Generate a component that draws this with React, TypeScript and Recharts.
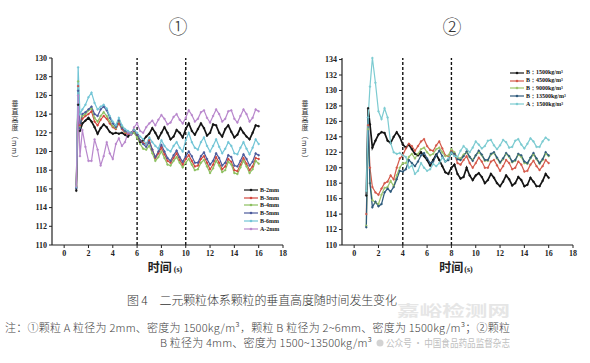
import { LineChart, Line, XAxis, YAxis, ReferenceLine, Legend } from 'recharts';

const times = [1, 1.15, 1.3, 1.5, 1.75, 2, 2.25, 2.5, 2.75, 3, 3.25, 3.5, 3.75, 4, 4.25, 4.5, 4.75, 5, 5.25, 5.5, 5.75, 6, 6.25, 6.5, 6.75, 7, 7.25, 7.5, 7.75, 8, 8.25, 8.5, 8.75, 9, 9.25, 9.5, 9.75, 10, 10.25, 10.5, 10.75, 11, 11.25, 11.5, 11.75, 12, 12.25, 12.5, 12.75, 13, 13.25, 13.5, 13.75, 14, 14.25, 14.5, 14.75, 15, 15.25, 15.5, 15.75, 16];

const xTicks = [0, 2, 4, 6, 8, 10, 12, 14, 16, 18];
const leftYTicks = [110, 112, 114, 116, 118, 120, 122, 124, 126, 128, 130];
const rightYTicks = [110, 112, 114, 116, 118, 120, 122, 124, 126, 128, 130, 132, 134];

// ① particle size series
const leftB2 = [115.8, 125, 122.2, 123, 123.3,
  123.6, 123.2, 122.6, 121.9, 122.5, 122.9, 122.6, 122.1, 121.9, 122, 121.9, 122, 121.8, 121.6, 122, 122.3,
  121.8, 121, 121.2, 121.6, 121.9, 122.5, 122, 121.4, 122, 122.6, 122, 121.3, 121.6, 122.3, 122, 121.5,
  122.4, 123, 122.2, 121.8, 122.4, 123, 122.5, 121.7, 122, 122.9, 122.8, 122, 121.6, 122.4, 122.8, 122.1,
  121.5, 121.8, 122.5, 122, 121.6, 121.3, 122, 122.8, 122.7];
const leftB3 = [116.2, 127, 122.8, 123.5, 123.8,
  124, 124.3, 123.2, 122.8, 123.4, 123.8, 123.5, 123, 122.6, 122.4, 123, 122.4, 122, 121.9, 121.8, 122.1,
  121.8, 121.2, 120.9, 120.8, 121.2, 120.2, 119.3, 119.8, 120.4, 119.7, 119, 118.8, 119.3, 119.8, 119.1, 118.6,
  119.2, 119.6, 119, 118.4, 118.5, 119.2, 119.5, 118.8, 118.1, 118.6, 119.4, 118.8, 118.1, 118.4, 119.2, 118.9,
  118, 117.9, 118.6, 119.3, 118.7, 118, 118.4, 119.3, 119.2];
const leftB4 = [116.3, 127.5, 122.6, 123.8, 124,
  124.4, 124.6, 123.6, 123.2, 123.8, 124.2, 123.8, 123.2, 122.7, 122.5, 123.2, 122.6, 122.1, 122, 121.8, 122,
  121.5, 120.8, 120.3, 120.2, 120.6, 119.8, 119, 119.4, 120, 119.3, 118.6, 118.5, 119, 119.4, 118.8, 118.3,
  118.8, 119.2, 118.6, 118, 118.1, 118.8, 119.1, 118.4, 117.7, 118.2, 119, 118.5, 117.8, 118, 118.9, 118.6,
  117.7, 117.6, 118.3, 119, 118.4, 117.7, 118.1, 119, 118.7];
const leftB5 = [116.1, 126.5, 122.5, 124, 124.2,
  124.5, 124.8, 124, 123.8, 124.5, 124.8, 124.4, 123.6, 123, 122.6, 123.3, 122.5, 122.2, 122, 121.8, 122.2,
  121.8, 121.2, 120.8, 120.5, 121, 120.2, 119.4, 120, 120.7, 120, 119.3, 119, 119.6, 120.1, 119.4, 118.9,
  119.5, 120, 119.5, 118.8, 118.8, 119.5, 119.9, 119.2, 118.6, 119, 119.8, 119.3, 118.5, 118.8, 119.6, 119.4,
  118.5, 118.4, 119, 119.7, 119.2, 118.5, 118.9, 119.8, 119.6];
const leftB6 = [116.2, 129, 124, 124.5, 125,
  125.8, 126.3, 125.2, 124.5, 124.8, 125, 124.6, 123.8, 123.2, 122.8, 123.6, 122.8, 122.4, 122.2, 122, 122.3,
  122, 121.6, 121.3, 120.8, 121.5, 121, 120.6, 120.3, 121.2, 120.6, 120.2, 120, 120.6, 121, 120.4, 120,
  121.2, 122, 121, 120.4, 120.2, 121, 121.5, 120.6, 120, 120.6, 121.3, 120.5, 119.8, 120.3, 121, 120.6,
  119.8, 119.7, 120.4, 121, 120.3, 119.7, 120.4, 121.3, 120.8];
const leftA2 = [116.3, 126, 119.5, 122.3, 120.5,
  119, 119, 121.3, 120.2, 118.5, 119.5, 121, 119.8, 119.2, 120.8, 121.4, 120.6, 121, 122, 121.8, 122.6,
  123, 122.2, 122, 122.6, 123, 123.3, 122.8, 123.4, 123.9, 123.5, 122.9, 123.1, 123.7, 124, 123.4, 123,
  123.6, 124.4, 123.9, 123.2, 123.5, 124.2, 124.4, 123.6, 123.1, 123.8, 124.5, 124, 123.2, 123.5, 124.3, 124.4,
  123.5, 123.1, 123.8, 124.5, 124, 123.2, 123.6, 124.5, 124.3];

// ② particle density series
const rightB1500 = [116.4, 127.7, 125.6, 122.6, 123.5,
  124.3, 124.6, 124.5, 123.5, 123.2, 124, 124.6, 124, 123, 122.6, 123, 122.4, 121.8, 121.6, 122, 121.5,
  121, 120.3, 121, 121.7, 121, 120.2, 119.4, 119.2, 120, 120.4, 119.2, 118.6, 118.8, 120, 119, 118.4,
  119, 119.3, 118.8, 118, 118.4, 119.2, 118.7, 118, 117.6, 118.2, 119, 118.5, 117.7, 118, 118.8, 118.4,
  117.6, 117.8, 118.7, 118.2, 117.6, 117.6, 118.3, 119.2, 118.7];
const rightB4500 = [114, 125.5, 120, 117.5, 116.8,
  116.5, 117.3, 118, 118.2, 119, 118.5, 120, 121.2, 121.6, 122.5, 123.1, 122.8, 122.2, 122.8, 123.4, 123.7,
  122.8, 122.3, 122.2, 122.9, 123.4, 122.5, 121.6, 121.5, 122.2, 121.8, 120.6, 120.4, 121, 121.5, 120.6, 120,
  120.6, 121.3, 120.8, 120, 120, 120.8, 121, 120.3, 119.6, 120.2, 121, 120.6, 119.8, 120, 120.8, 120.4,
  119.5, 119.6, 120.4, 120.9, 120.2, 119.7, 120.2, 121, 120.6];
const rightB9000 = [112.5, 125, 118, 115.8, 115.5,
  115.3, 116.5, 117.4, 117.5, 118.3, 117.6, 119, 120, 120.6, 120.6, 121.4, 121.8, 121.2, 121.8, 122.4, 122.6,
  122, 121.6, 121.8, 122.4, 122.6, 122, 121.5, 121.6, 122.4, 122, 121.3, 121.2, 121.7, 122, 121.4, 121,
  121.6, 122, 121.6, 120.9, 120.9, 121.7, 121.9, 121.2, 120.6, 121.1, 121.8, 121.4, 120.7, 120.9, 121.7, 121.4,
  120.6, 120.5, 121.2, 121.7, 121.1, 120.5, 121, 121.8, 121.5];
const rightB13500 = [112.3, 126.5, 118, 114.9, 115.6,
  115, 115.3, 116.8, 117.3, 116.9, 117.5, 118.5, 119.6, 119.5, 119.8, 121, 120.6, 120.2, 120.8, 121.6, 121.9,
  121.2, 120.6, 120.8, 121.6, 122.2, 121.5, 120.8, 121, 122, 121.8, 121.1, 121, 121.5, 122.1, 121.4, 120.9,
  121.6, 122.2, 121.7, 121, 121, 121.8, 122, 121.3, 120.7, 121.2, 121.9, 121.5, 120.8, 121, 121.8, 121.6,
  120.8, 120.6, 121.3, 121.9, 121.2, 120.6, 121.1, 122, 121.6];
const rightA1500 = [117, 126.5, 130.5, 134.2, 131,
  127.3, 126.3, 127.7, 126.5, 123.2, 122, 121.8, 121.9, 121.6, 121.4, 120, 120.3, 119.2, 119.6, 120.6, 120,
  119.6, 119.8, 120.5, 120.2, 120.6, 121.3, 120.8, 121.2, 121.9, 121.5, 121.4, 122.2, 122.8, 122.4, 122, 122.6,
  123.4, 123, 122.5, 122.8, 123.5, 123.6, 122.9, 122.4, 122.9, 123.6, 123.3, 122.6, 122.7, 123.5, 123.7, 123,
  122.5, 123.1, 123.8, 123.4, 122.7, 122.7, 123.4, 123.9, 123.6];

const leftSeries = [
  { key: 'b2', name: 'B-2mm', color: '#151515', values: leftB2, width: 1.7 },
  { key: 'b3', name: 'B-3mm', color: '#d2473e', values: leftB3, width: 1.2 },
  { key: 'b4', name: 'B-4mm', color: '#8dc060', values: leftB4, width: 1.2 },
  { key: 'b5', name: 'B-5mm', color: '#4b5a9c', values: leftB5, width: 1.2 },
  { key: 'b6', name: 'B-6mm', color: '#72c5d6', values: leftB6, width: 1.2 },
  { key: 'a2', name: 'A-2mm', color: '#b887cc', values: leftA2, width: 1.2 },
];

const rightSeries = [
  { key: 'b1500', name: 'B：1500kg/m³', color: '#151515', values: rightB1500, width: 1.7 },
  { key: 'b4500', name: 'B：4500kg/m³', color: '#d4594a', values: rightB4500, width: 1.2 },
  { key: 'b9000', name: 'B：9000kg/m³', color: '#9cc46b', values: rightB9000, width: 1.2 },
  { key: 'b13500', name: 'B：13500kg/m³', color: '#2f5b7c', values: rightB13500, width: 1.3 },
  { key: 'a1500', name: 'A：1500kg/m³', color: '#7ccbd1', values: rightA1500, width: 1.2 },
];

const buildData = (series) =>
  times.map((t, i) => {
    const row = { t };
    series.forEach((s) => { row[s.key] = s.values[i]; });
    return row;
  });

const tickStyle = { fontFamily: '"Liberation Serif", serif', fontWeight: 700, fontSize: 8, fill: '#222' };
const cjk = '"Noto Sans CJK SC", sans-serif';

function LegendBox({ payload, series }) {
  // keep the series order, the legend sorts by name otherwise
  const items = series.map((s) => (payload || []).find((p) => p.value === s.name) || { value: s.name, color: s.color });
  return (
    <div style={{ fontFamily: '"Liberation Serif", serif', fontWeight: 700, fontSize: 6, color: '#111' }}>
      {items.map((p) => (
        <div key={p.value} style={{ display: 'flex', alignItems: 'center', height: 7.8, whiteSpace: 'nowrap' }}>
          <svg width={14} height={6} style={{ marginRight: 2 }}>
            <line x1={0} y1={3} x2={14} y2={3} stroke={p.color} strokeWidth={1.2} />
            <circle cx={7} cy={3} r={1.3} fill={p.color} />
          </svg>
          <span>{p.value}</span>
        </div>
      ))}
    </div>
  );
}

function Panel({ left, series, yDomain, yTicks, refs, legendPos }) {
  const data = buildData(series);
  return (
    <div style={{ position: 'absolute', left, top: 0 }}>
      <LineChart width={300} height={290} data={data} margin={{ top: 58, right: 17, bottom: 25, left: 22 }}>
        <XAxis
          dataKey="t"
          type="number"
          domain={[-1, 18]}
          ticks={xTicks}
          interval={0}
          tick={tickStyle}
          tickSize={3}
          height={20}
          axisLine={{ stroke: '#222', strokeWidth: 1.2 }}
          tickLine={{ stroke: '#222' }}
        />
        <YAxis
          type="number"
          domain={yDomain}
          ticks={yTicks}
          interval={0}
          tick={tickStyle}
          tickSize={3}
          width={30}
          axisLine={{ stroke: '#222', strokeWidth: 1.2 }}
          tickLine={{ stroke: '#222' }}
        />
        {refs.map((r) => (
          <ReferenceLine key={r} x={r} stroke="#111" strokeWidth={1.4} strokeDasharray="3 2" />
        ))}
        {series.map((s) => (
          <Line
            key={s.key}
            dataKey={s.key}
            name={s.name}
            type="linear"
            stroke={s.color}
            strokeWidth={s.width}
            dot={{ r: 0.9, fill: s.color, stroke: s.color, strokeWidth: 0.5 }}
            activeDot={false}
            isAnimationActive={false}
          />
        ))}
        <Legend
          layout="vertical"
          align="center"
          verticalAlign="middle"
          content={<LegendBox series={series} />}
          wrapperStyle={{ left: legendPos.left, top: legendPos.top, width: 70, height: 'auto' }}
        />
      </LineChart>
    </div>
  );
}

function YLabel({ x }) {
  return (
    <text
      x={x}
      y={100}
      fontFamily={cjk}
      fontSize={7}
      fill="#333"
      letterSpacing={1}
      style={{ writingMode: 'vertical-rl' }}
    >
      垂直高度（mm）
    </text>
  );
}

export default function App() {
  return (
    <div style={{ position: 'fixed', left: 0, top: 0, width: 590, height: 363, background: '#fff', overflow: 'hidden' }}>
      <Panel left={0} series={leftSeries} yDomain={[110, 130]} yTicks={leftYTicks} refs={[6, 10]} legendPos={{ left: 244, top: 186 }} />
      <Panel left={290} series={rightSeries} yDomain={[110, 134]} yTicks={rightYTicks} refs={[4, 8]} legendPos={{ left: 220, top: 69 }} />
      <svg width={590} height={363} style={{ position: 'absolute', left: 0, top: 0, pointerEvents: 'none' }}>
        <YLabel x={15} />
        <YLabel x={305} />
        <text x={178} y={34} textAnchor="middle" fontFamily={cjk} fontWeight={300} fontSize={19} fill="#333">①</text>
        <text x={452} y={34} textAnchor="middle" fontFamily={cjk} fontWeight={300} fontSize={19} fill="#333">②</text>
        <text x={165} y={272} textAnchor="middle" fill="#222" fontWeight={700}>
          <tspan fontFamily={cjk} fontSize={12}>时间</tspan>
          <tspan fontFamily='"Liberation Serif", serif' fontSize={8} dx={2}>(s)</tspan>
        </text>
        <text x={456} y={272} textAnchor="middle" fill="#222" fontWeight={700}>
          <tspan fontFamily={cjk} fontSize={12}>时间</tspan>
          <tspan fontFamily='"Liberation Serif", serif' fontSize={8} dx={1}>(s)</tspan>
        </text>
        <text x={397} y={316} fontFamily={cjk} fontWeight={700} fontSize={15} fill="#e6e6e6" textLength={113} lengthAdjust="spacingAndGlyphs">嘉峪检测网</text>
        <text x={127} y={305} fontFamily={cjk} fontWeight={300} fontSize={12} fill="#333" textLength={270} lengthAdjust="spacing">图 4　二元颗粒体系颗粒的垂直高度随时间发生变化</text>
        <text x={5} y={332} fontFamily={cjk} fontWeight={300} fontSize={11} fill="#444" textLength={505} lengthAdjust="spacing">注：①颗粒 A 粒径为 2mm、密度为 1500kg/m³，颗粒 B 粒径为 2~6mm、密度为 1500kg/m³；②颗粒</text>
        <text x={160} y={347} fontFamily={cjk} fontWeight={300} fontSize={11} fill="#444" textLength={212} lengthAdjust="spacing">B 粒径为 4mm、密度为 1500~13500kg/m³</text>
        <circle cx={380} cy={343} r={3.5} fill="#c8c8c8" opacity={0.8} />
        <text x={386} y={347} fontFamily={cjk} fontSize={10} fill="#b5b5b5" opacity={0.85} textLength={124} lengthAdjust="spacingAndGlyphs">公众号 · 中国食品药品监督杂志</text>
      </svg>
    </div>
  );
}
